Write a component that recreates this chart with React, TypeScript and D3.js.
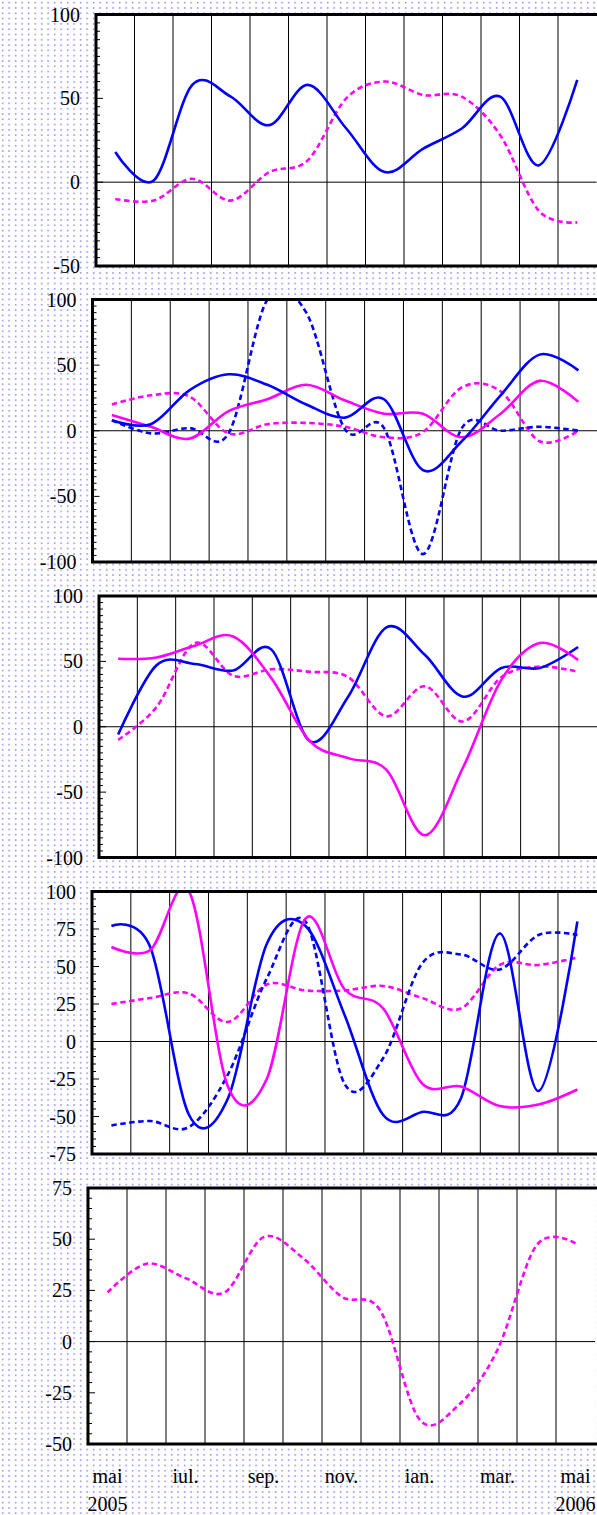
import { useMemo } from "react";
import * as d3 from "d3";

// month categories (May 2005 .. May 2006)
const MONTHS = ["mai", "iun.", "iul.", "aug.", "sep.", "oct.", "nov.", "dec.", "ian.", "feb.", "mar.", "apr.", "mai"];
const YEARS = ["2005", "", "", "", "", "", "", "", "", "", "", "", "2006"];

// panel 1
const P1_BLUE = [18, 1, 58, 51, 34, 58, 32, 6, 20, 32, 51, 10, 61];
const P1_MAG_DOT = [-10, -11, 2, -11, 6, 13, 50, 60, 52, 51, 28, -17, -24];
const P1_TICKS = [-50, 0, 50, 100];

// panel 2
const P2_BLUE = [8, 5, 31, 43, 35, 20, 10, 24, -30, -8, 27, 58, 46];
const P2_BLUE_DOT = [8, -2, 2, -2, 100, 90, 1, 2, -94, 2, 0, 3, 0];
const P2_MAG = [12, 3, -6, 15, 24, 35, 23, 13, 13, -5, 13, 38, 22];
const P2_MAG_DOT = [20, 27, 26, -2, 5, 6, 3, -5, -1, 33, 30, -8, 0];
const P2_TICKS = [-100, -50, 0, 50, 100];

// panel 3
const P3_BLUE = [-6, 47, 48, 43, 59, -11, 23, 76, 55, 23, 45, 45, 61];
const P3_MAG = [52, 53, 62, 69, 37, -11, -24, -33, -83, -31, 36, 64, 51];
const P3_MAG_DOT = [-10, 15, 64, 39, 44, 42, 38, 8, 31, 4, 38, 46, 42];
const P3_TICKS = [-100, -50, 0, 50, 100];

// panel 4
const P4_BLUE = [77, 63, -49, -38, 65, 77, 18, -49, -47, -38, 72, -33, 80];
const P4_BLUE_DOT = [-56, -53, -57, -22, 42, 80, -28, -11, 52, 58, 48, 71, 71];
const P4_MAG = [63, 61, 100, -30, -25, 82, 35, 22, -28, -30, -43, -42, -32];
const P4_MAG_DOT = [25, 29, 32, 13, 38, 34, 34, 37, 29, 22, 51, 51, 56];
const P4_TICKS = [-75, -50, -25, 0, 25, 50, 75, 100];

// panel 5
const P5_MAG_DOT = [24, 38, 31, 24, 51, 41, 22, 15, -38, -31, -4, 47, 48];
const P5_TICKS = [-50, -25, 0, 25, 50, 75];

const BLUE = "#0000ff";
const MAGENTA = "#ff00ff";

type Series = { values: number[]; color: string; dashed: boolean };
type PanelCfg = {
  left: number; top: number; bottom: number; step: number;
  min: number; max: number; ticks: number[]; series: Series[];
};

const PANELS: PanelCfg[] = [
  { left: 96, top: 14.5, bottom: 266, step: 38.5, min: -50, max: 100, ticks: P1_TICKS,
    series: [
      { values: P1_MAG_DOT, color: MAGENTA, dashed: true },
      { values: P1_BLUE, color: BLUE, dashed: false },
    ] },
  { left: 92.5, top: 299.5, bottom: 562, step: 38.87, min: -100, max: 100, ticks: P2_TICKS,
    series: [
      { values: P2_MAG_DOT, color: MAGENTA, dashed: true },
      { values: P2_BLUE_DOT, color: BLUE, dashed: true },
      { values: P2_MAG, color: MAGENTA, dashed: false },
      { values: P2_BLUE, color: BLUE, dashed: false },
    ] },
  { left: 99, top: 596, bottom: 857.5, step: 38.33, min: -100, max: 100, ticks: P3_TICKS,
    series: [
      { values: P3_MAG_DOT, color: MAGENTA, dashed: true },
      { values: P3_BLUE, color: BLUE, dashed: false },
      { values: P3_MAG, color: MAGENTA, dashed: false },
    ] },
  { left: 92, top: 891.5, bottom: 1154, step: 38.83, min: -75, max: 100, ticks: P4_TICKS,
    series: [
      { values: P4_MAG_DOT, color: MAGENTA, dashed: true },
      { values: P4_BLUE_DOT, color: BLUE, dashed: true },
      { values: P4_BLUE, color: BLUE, dashed: false },
      { values: P4_MAG, color: MAGENTA, dashed: false },
    ] },
  { left: 88, top: 1188, bottom: 1444, step: 39, min: -50, max: 75, ticks: P5_TICKS,
    series: [{ values: P5_MAG_DOT, color: MAGENTA, dashed: true }] },
];

const FONT = "'Liberation Serif', 'Times New Roman', serif";

function Panel({ cfg, idx }: { cfg: PanelCfg; idx: number }) {
  const right = cfg.left + cfg.step * MONTHS.length;
  const x = d3.scaleLinear().domain([0, MONTHS.length]).range([cfg.left, right]);
  const y = d3.scaleLinear().domain([cfg.min, cfg.max]).range([cfg.bottom, cfg.top]);
  const line = d3.line<number>()
    .x((_d, i) => x(i + 0.5))
    .y((d) => y(d))
    .curve(d3.curveCardinal.tension(0));
  const minor = d3.range(cfg.min, cfg.max + 0.1, 5);
  const clipId = `clip${idx}`;
  return (
    <g>
      <clipPath id={clipId}>
        <rect x={cfg.left} y={cfg.top} width={right - cfg.left} height={cfg.bottom - cfg.top} />
      </clipPath>
      <rect x={cfg.left} y={cfg.top} width={right - cfg.left} height={cfg.bottom - cfg.top} fill="#fff" />
      {d3.range(1, MONTHS.length).map((i) => (
        <line key={i} x1={x(i)} x2={x(i)} y1={cfg.top} y2={cfg.bottom} stroke="#000" strokeWidth={1} />
      ))}
      <line x1={cfg.left} x2={right} y1={y(0)} y2={y(0)} stroke="#000" strokeWidth={1} />
      <g clipPath={`url(#${clipId})`}>
        {cfg.series.map((s, i) => (
          <path key={i} d={line(s.values) ?? ""} fill="none" stroke={s.color} strokeWidth={2.6}
            strokeDasharray={s.dashed ? "5.5,3.5" : undefined} strokeLinejoin="round" />
        ))}
      </g>
      {minor.map((t) => {
        const major = cfg.ticks.includes(t);
        return <line key={t} x1={cfg.left} x2={cfg.left + (major ? 7 : 4)} y1={y(t)} y2={y(t)} stroke="#000" strokeWidth={1} />;
      })}
      <path d={`M${right + 5},${cfg.top}H${cfg.left}V${cfg.bottom}H${right + 5}`} fill="none" stroke="#000" strokeWidth={3} />
      {cfg.ticks.map((t) => (
        <text key={t} x={cfg.left - 16} y={y(t)} dy="0.35em" textAnchor="end" fontSize={20} fontFamily={FONT} fill="#000">
          {t}
        </text>
      ))}
    </g>
  );
}

export default function App() {
  const last = PANELS[PANELS.length - 1];
  const xb = useMemo(
    () => d3.scaleLinear().domain([0, MONTHS.length]).range([last.left, last.left + last.step * MONTHS.length]),
    [last]
  );
  return (
    <svg width={597} height={1515} style={{ position: "absolute", left: 0, top: 0 }}>
      <defs>
        <pattern id="dots" width={6.5} height={5.3} patternUnits="userSpaceOnUse">
          <rect x={2} y={2} width={1.3} height={1.3} fill="#5c5cff" />
        </pattern>
      </defs>
      <rect width={597} height={1515} fill="#fff" />
      <rect width={597} height={1515} fill="url(#dots)" />
      {PANELS.map((p, i) => <Panel key={i} cfg={p} idx={i} />)}
      {MONTHS.map((m, i) => (i % 2 === 0 ? (
        <text key={i} x={xb(i + 0.5)} y={1483} textAnchor="middle" fontSize={20} fontFamily={FONT} fill="#000">{m}</text>
      ) : null))}
      {YEARS.map((yr, i) => (yr ? (
        <text key={"y" + i} x={xb(i + 0.5)} y={1511} textAnchor="middle" fontSize={20} fontFamily={FONT} fill="#000">{yr}</text>
      ) : null))}
    </svg>
  );
}
